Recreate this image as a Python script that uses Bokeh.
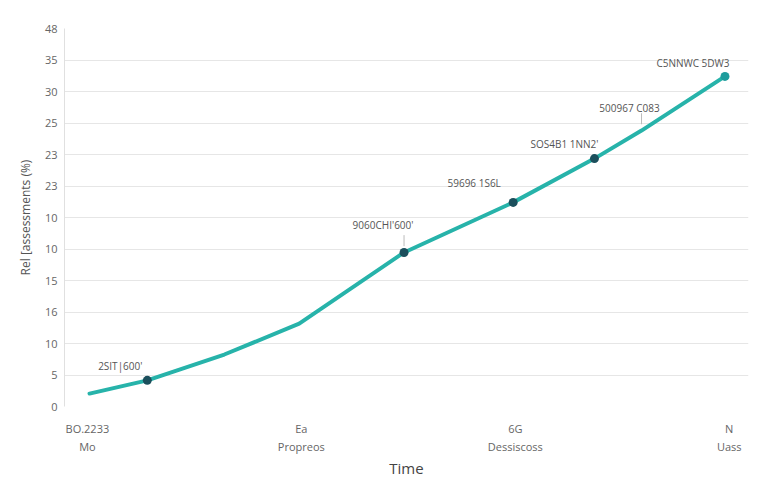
from bokeh.plotting import figure
from bokeh.models import FixedTicker, LinearAxis, Range1d, ColumnDataSource
from bokeh.embed import file_html
from bokeh.resources import INLINE

# Data (x in category steps, y in grid steps)
time_pos = [0.01, 0.28, 0.64, 0.99, 1.48, 1.99, 2.37, 2.59, 2.98]
rel_vals = [0.41, 0.83, 1.65, 2.63, 4.89, 6.48, 7.87, 8.76, 10.48]

marked = [1, 4, 5, 6]          # points drawn with a dark marker
end_point = 8                  # last point, teal marker
labelled = [1, 4, 5, 6, 7, 8]
point_labels = ["2SIT|600'", "9060CHI'600'", "59696 1S6L", "SOS4B1 1NN2'",
                "500967 C083", "C5NNWC 5DW3"]
label_dx = [-27, -21, -39, -30, -12, -32]
label_dy = [-14, -27, -19, -15, -23, -13]
leaders = [4, 7]

y_ticks = list(range(13))
y_tick_labels = ["0", "5", "10", "16", "15", "10", "10", "23", "23", "25", "30", "35", "48"]
x_ticks = [0, 1, 2, 3]
x_top_labels = ["BO.2233", "Ea", "6G", "N"]
x_bottom_labels = ["Mo", "Propreos", "Dessiscoss", "Uass"]

FONT = "Open Sans"
TEXT = "#666666"

p = figure(width=760, height=483, output_backend="svg", toolbar_location=None,
           x_range=Range1d(-0.107, 3.09), y_range=Range1d(0, 12),
           min_border_left=64, min_border_right=12, min_border_top=28, min_border_bottom=77,
           x_axis_location=None)
p.outline_line_color = None
p.background_fill_color = "white"

# grid
p.ygrid.ticker = FixedTicker(ticks=y_ticks)
p.ygrid.grid_line_color = "#e6e6e6"
p.xgrid.grid_line_color = None

# y axis
p.yaxis.ticker = FixedTicker(ticks=y_ticks)
p.yaxis.major_label_overrides = {t: l for t, l in zip(y_ticks, y_tick_labels)}
p.yaxis.axis_line_color = "#e0e0e0"
p.yaxis.major_tick_line_color = None
p.yaxis.minor_tick_line_color = None
p.yaxis.major_tick_out = 0
p.yaxis.minor_tick_out = 0
p.yaxis.major_label_standoff = 7
p.yaxis.major_label_text_font = FONT
p.yaxis.major_label_text_font_size = "11px"
p.yaxis.major_label_text_color = TEXT
p.yaxis.axis_label = "Rel [assessments (%)"
p.yaxis.axis_label_text_font = FONT
p.yaxis.axis_label_text_font_size = "12px"
p.yaxis.axis_label_text_font_style = "normal"
p.yaxis.axis_label_text_color = "#555555"
p.yaxis.axis_label_standoff = 8

# two rows of x labels
for labels, standoff, title in [(x_top_labels, 14, None), (x_bottom_labels, 0, "Time")]:
    ax = LinearAxis(ticker=FixedTicker(ticks=x_ticks),
                    major_label_overrides={t: l for t, l in zip(x_ticks, labels)})
    ax.axis_line_color = None
    ax.major_tick_line_color = None
    ax.minor_tick_line_color = None
    ax.major_tick_out = 0
    ax.minor_tick_out = 0
    ax.major_label_standoff = standoff
    ax.major_label_text_font = FONT
    ax.major_label_text_font_size = "11px"
    ax.major_label_text_color = TEXT
    if title:
        ax.axis_label = title
        ax.axis_label_text_font = FONT
        ax.axis_label_text_font_size = "15px"
        ax.axis_label_text_font_style = "normal"
        ax.axis_label_text_color = "#444444"
        ax.axis_label_standoff = 1
    p.add_layout(ax, "below")

# line and markers
p.line(time_pos, rel_vals, line_color="#27b3aa", line_width=4, line_cap="round", line_join="round")
p.scatter([time_pos[i] for i in marked], [rel_vals[i] for i in marked],
          size=9, fill_color="#1b4f5c", line_color=None)
p.scatter([time_pos[end_point]], [rel_vals[end_point]], size=9, fill_color="#1e9c9c", line_color=None)

# leader lines
p.segment(x0=[time_pos[i] for i in leaders], y0=[rel_vals[i] + 0.2 for i in leaders],
          x1=[time_pos[i] for i in leaders], y1=[rel_vals[i] + 0.55 for i in leaders],
          line_color="#bbbbbb", line_width=1)

# point labels
src = ColumnDataSource(dict(x=[time_pos[i] for i in labelled], y=[rel_vals[i] for i in labelled],
                            text=point_labels, dx=label_dx, dy=label_dy))
p.text(x="x", y="y", text="text", x_offset="dx", y_offset="dy", source=src,
       text_align="center", text_baseline="middle", text_font_size="10px",
       text_color="#555555", text_font={"value": FONT})

open("out.html", "w").write(file_html(p, INLINE))
